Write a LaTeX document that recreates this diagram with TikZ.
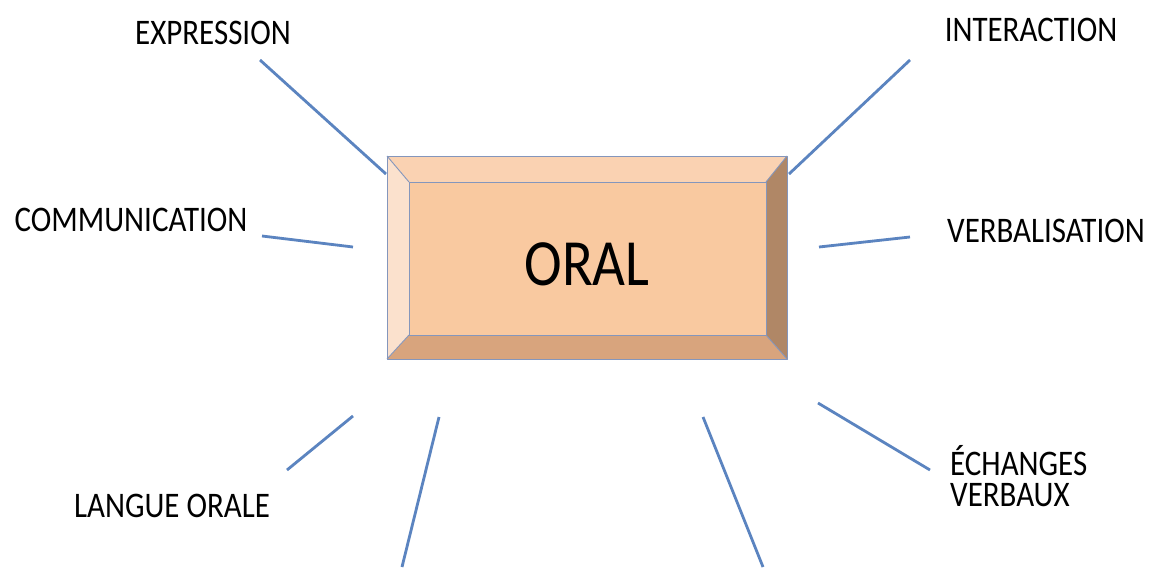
\documentclass[tikz,border=0pt]{standalone}
\usepackage{fontspec}
\setmainfont{Carlito}[FakeStretch=0.86]
\definecolor{spoke}{HTML}{5B84C0}
\definecolor{rim}{HTML}{8496BC}
\definecolor{face}{HTML}{F9C9A0}
\definecolor{bevtop}{HTML}{FAD2B2}
\definecolor{bevleft}{HTML}{FBE1CD}
\definecolor{bevright}{HTML}{B08766}
\definecolor{bevbottom}{HTML}{D8A47D}
\tikzset{
  lbl/.style={inner sep=0pt, font=\fontsize{36}{31}\selectfont, text=black},
  spokeline/.style={draw=spoke, line width=2.8pt},
  rimline/.style={draw=rim, line width=0.9pt, line join=round}
}
\begin{document}
\begin{tikzpicture}[x=1pt,y=-1pt]
\useasboundingbox (0,0) rectangle (1155,567);
\fill[white] (0,0) rectangle (1155,567);

% bevelled button
\coordinate (o1) at (387,156); \coordinate (o2) at (787,156);
\coordinate (o3) at (787,359); \coordinate (o4) at (387,359);
\coordinate (i1) at (409,182); \coordinate (i2) at (766,182);
\coordinate (i3) at (766,335); \coordinate (i4) at (409,335);
\fill[bevtop] (o1) -- (o2) -- (i2) -- (i1) -- cycle;
\fill[bevright] (o2) -- (o3) -- (i3) -- (i2) -- cycle;
\fill[bevbottom] (o3) -- (o4) -- (i4) -- (i3) -- cycle;
\fill[bevleft] (o4) -- (o1) -- (i1) -- (i4) -- cycle;
\fill[face] (i1) rectangle (i3);
\draw[rimline] (o1) rectangle (o3);
\draw[rimline] (i1) rectangle (i3);
\draw[rimline] (o1) -- (i1) (o2) -- (i2) (o3) -- (i3) (o4) -- (i4);
\node[lbl, font=\fontsize{66}{70}\selectfont, anchor=base] (oral) at (587,285) {ORAL};

% labels
\node[lbl, anchor=base] (expr) at (213,45) {EXPRESSION};
\node[lbl, anchor=base] (inter) at (1031,42) {INTERACTION};
\node[lbl, anchor=base] (comm) at (131,231) {COMMUNICATION};
\node[lbl, anchor=base] (verb) at (1046,242) {VERBALISATION};
\node[lbl, anchor=base] (lang) at (172,517) {LANGUE ORALE};
\node[lbl, anchor=west, align=left] (ech) at (950,476) {ÉCHANGES\\VERBAUX};

% spoke end points
\coordinate (a1) at (260,60);   \coordinate (b1) at (386,174);
\coordinate (a2) at (910,60);   \coordinate (b2) at (789,174);
\coordinate (a3) at (262,236);  \coordinate (b3) at (353,247);
\coordinate (a4) at (910,237);  \coordinate (b4) at (819,247);
\coordinate (a5) at (287,470);  \coordinate (b5) at (353,416);
\coordinate (a6) at (402,567);  \coordinate (b6) at (439,417);
\coordinate (a7) at (763,567);  \coordinate (b7) at (703,417);
\coordinate (a8) at (930,470);  \coordinate (b8) at (818,403);

\foreach \k in {1,...,8} {\draw[spokeline] (a\k) -- (b\k);}
\end{tikzpicture}
\end{document}
